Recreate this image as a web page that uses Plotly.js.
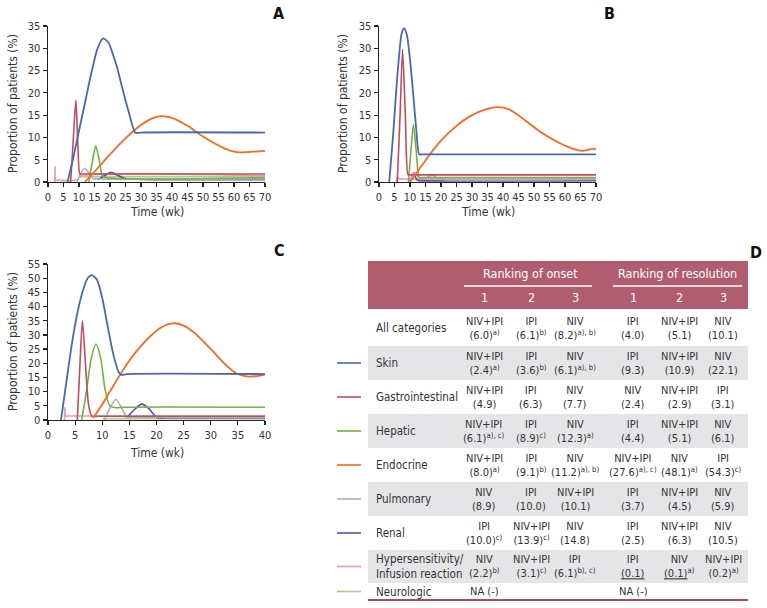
<!DOCTYPE html>
<html lang="en">
<head>
<meta charset="UTF-8">
<title>irAE onset and resolution</title>
<script src="https://cdn.plot.ly/plotly-3.0.1.min.js"></script>
<style>
  body { margin: 0; background: #fff; }
  #chart { width: 767px; height: 608px; }
</style>
</head>
<body>
<div id="chart"></div>
<script>
// ---- data (weeks, % of patients) ----
// panel A
const aSkinX = [6.3, 8, 10, 12, 14, 16, 17.8, 19.5, 21, 22.2, 24, 26, 28.1, 29, 30, 70];
const aSkinY = [0, 5, 11.5, 18, 24.5, 30, 32.2, 31.3, 28.5, 25.9, 21, 15.8, 11.1, 11, 11.1, 11.1];
const aGiX = [7.3, 8.2, 9.0, 9.6, 10.3, 11, 70];
const aGiY = [0, 10, 18.4, 9, 1.8, 1.8, 1.8];
const aHepX = [13.2, 14.3, 15.4, 16.5, 17.5, 18.5, 70];
const aHepY = [0, 4.5, 8.1, 5, 1.5, 1.0, 1.0];
const aEndoX = [11.9, 15, 20, 25, 30, 34, 36.7, 40, 45, 50, 55, 59, 61.9, 66, 70];
const aEndoY = [0, 2.3, 6.2, 9.8, 12.8, 14.4, 14.8, 14.4, 12.6, 10.2, 8.2, 7.0, 6.65, 6.8, 7.0];
const aPulmX = [9.3, 10.5, 11.8, 13, 14.5, 16, 70];
const aPulmY = [0, 1.8, 3.1, 2.2, 0.8, 0.7, 0.7];
const aRenX = [16, 18, 20.3, 22.5, 25, 30, 70];
const aRenY = [0.5, 1.3, 2.2, 1.5, 0.8, 0.6, 0.5];
const aHypX = [2.2, 2.3, 2.45, 3, 9, 11, 70];
const aHypY = [0, 3.4, 0.4, 0.4, 0.4, 1.4, 1.4];
const aNeuX = [10, 70];
const aNeuY = [1.2, 1.2];

// panel B
const bSkinX = [3.3, 4.5, 5.5, 6.5, 7.3, 8.1, 9, 10, 11, 12, 13, 14, 70];
const bSkinY = [0, 10, 20, 28.5, 33.3, 34.5, 33, 27.5, 20, 12, 6.2, 6.2, 6.2];
const bGiX = [5.9, 6.8, 7.6, 8.5, 9.4, 10, 70];
const bGiY = [0, 15, 29.8, 15, 1.6, 1.6, 1.6];
const bHepX = [9.5, 10.3, 11.1, 12, 13, 14, 70];
const bHepY = [0, 7, 12.9, 7, 1, 1, 1];
const bEndoX = [10, 12.2, 16.5, 20, 25, 30, 35, 38, 42, 47, 52, 57, 62, 65.4, 68, 70];
const bEndoY = [0, 2.1, 6.3, 9.3, 12.6, 15, 16.4, 16.8, 16.3, 13.9, 11.3, 9.2, 7.6, 7.0, 7.3, 7.5];
const bPulmX = [10, 11.3, 12.5, 14, 15, 17, 19, 21, 70];
const bPulmY = [0, 2.2, 1.2, 0.6, 0.8, 1.5, 0.9, 0.6, 0.6];
const bRenX = [10, 11.1, 12.3, 13, 70];
const bRenY = [0, 2.0, 0.4, 0.3, 0.3];
const bHypX = [5.6, 5.9, 6.3, 70];
const bHypY = [0, 1.0, 0.8, 0.8];
const bNeuX = [12, 70];
const bNeuY = [0.7, 0.7];

// panel C
const cSkinX = [2.4, 3.5, 4.5, 5.5, 6.5, 7.3, 8.05, 9, 10, 11, 12, 13, 13.5, 14.5, 40];
const cSkinY = [0, 15, 28, 38.5, 46, 50, 51.1, 49.5, 43, 33, 23.5, 17, 15.9, 16.2, 16.2];
const cGiX = [5.4, 5.9, 6.35, 6.9, 7.5, 8.1, 9, 40];
const cGiY = [0, 20, 35, 20, 5, 1.3, 1.3, 1.3];
const cHepX = [6.2, 7, 8, 8.85, 9.7, 10.5, 11.4, 12.5, 14, 40];
const cHepY = [0, 9, 22, 26.8, 22, 11, 5, 4.3, 4.5, 4.5];
const cEndoX = [8.3, 10, 11.4, 13.3, 15, 17, 19, 21, 23, 25, 27, 29, 31, 33, 35, 37, 38.5, 40];
const cEndoY = [0.7, 5.5, 10, 16, 21, 25.8, 29.8, 32.8, 34.1, 33.3, 30.7, 27, 23, 19, 16.2, 15.3, 15.5, 16];
const cPulmX = [10.4, 11.5, 12.5, 13.5, 14.6, 16, 40];
const cPulmY = [0, 4.5, 7.3, 4.5, 0.9, 1.0, 1.0];
const cRenX = [14.6, 16, 17.3, 18.7, 20, 22, 40];
const cRenY = [0.9, 3.8, 5.6, 3.8, 0.9, 0.8, 0.8];
const cHypX = [3.05, 3.1, 3.25, 3.5, 40];
const cHypY = [0, 4.5, 1.4, 1.4, 1.4];
const cNeuX = [10, 40];
const cNeuY = [0.5, 0.5];

// ---- table D ----
const categories = ['All categories', 'Skin', 'Gastrointestinal', 'Hepatic', 'Endocrine', 'Pulmonary', 'Renal',
  'Hypersensitivity/<br>Infusion reaction', 'Neurologic'];
const onset1 = ['NIV+IPI<br>(6.0)<sup>a)</sup>', 'NIV+IPI<br>(2.4)<sup>a)</sup>', 'NIV+IPI<br>(4.9)', 'NIV+IPI<br>(6.1)<sup>a), c)</sup>',
  'NIV+IPI<br>(8.0)<sup>a)</sup>', 'NIV<br>(8.9)', 'IPI<br>(10.0)<sup>c)</sup>', 'NIV<br>(2.2)<sup>b)</sup>', 'NA (-)'];
const onset2 = ['IPI<br>(6.1)<sup>b)</sup>', 'IPI<br>(3.6)<sup>b)</sup>', 'IPI<br>(6.3)', 'IPI<br>(8.9)<sup>c)</sup>',
  'IPI<br>(9.1)<sup>b)</sup>', 'IPI<br>(10.0)', 'NIV+IPI<br>(13.9)<sup>c)</sup>', 'NIV+IPI<br>(3.1)<sup>c)</sup>', ''];
const onset3 = ['NIV<br>(8.2)<sup>a), b)</sup>', 'NIV<br>(6.1)<sup>a), b)</sup>', 'NIV<br>(7.7)', 'NIV<br>(12.3)<sup>a)</sup>',
  'NIV<br>(11.2)<sup>a), b)</sup>', 'NIV+IPI<br>(10.1)', 'NIV<br>(14.8)', 'IPI<br>(6.1)<sup>b), c)</sup>', ''];
const resol1 = ['IPI<br>(4.0)', 'IPI<br>(9.3)', 'NIV<br>(2.4)', 'IPI<br>(4.4)', 'NIV+IPI<br>(27.6)<sup>a), c)</sup>',
  'IPI<br>(3.7)', 'IPI<br>(2.5)', 'IPI<br><u>(0.1)</u>', 'NA (-)'];
const resol2 = ['NIV+IPI<br>(5.1)', 'NIV+IPI<br>(10.9)', 'NIV+IPI<br>(2.9)', 'NIV+IPI<br>(5.1)', 'NIV<br>(48.1)<sup>a)</sup>',
  'NIV+IPI<br>(4.5)', 'NIV+IPI<br>(6.3)', 'NIV<br><u>(0.1)</u><sup>a)</sup>', ''];
const resol3 = ['NIV<br>(10.1)', 'NIV<br>(22.1)', 'IPI<br>(3.1)', 'NIV<br>(6.1)', 'IPI<br>(54.3)<sup>c)</sup>',
  'NIV<br>(5.9)', 'NIV<br>(10.5)', 'NIV+IPI<br>(0.2)<sup>a)</sup>', ''];

const colors = {
  skin: '#4a69ad', gi: '#c04d5d', hep: '#77b043', endo: '#ff671b',
  pulm: '#a9b1c1', ren: '#6549b0', hyp: '#eb9ba8', neu: '#a8d08c'
};

const FONT = 'DejaVu Sans Condensed, Roboto, sans-serif';
const W = 767, H = 608;
const px = x => x / W;
const py = y => 1 - y / H;

function line(x, y, color, xa, ya, width) {
  return {
    x: x, y: y, xaxis: xa, yaxis: ya, type: 'scatter', mode: 'lines',
    line: { color: color, width: width || 1.6, shape: 'spline', smoothing: 0.7 },
    hoverinfo: 'skip', showlegend: false
  };
}

const traces = [];
function panel(xa, ya, s) {
  // thin lines first, big curves on top
  traces.push(line(s.neu[0], s.neu[1], colors.neu, xa, ya));
  traces.push(line(s.hyp[0], s.hyp[1], colors.hyp, xa, ya));
  traces.push(line(s.ren[0], s.ren[1], colors.ren, xa, ya));
  traces.push(line(s.pulm[0], s.pulm[1], colors.pulm, xa, ya));
  traces.push(line(s.hep[0], s.hep[1], colors.hep, xa, ya));
  traces.push(line(s.gi[0], s.gi[1], colors.gi, xa, ya));
  traces.push(line(s.endo[0], s.endo[1], colors.endo, xa, ya, 1.8));
  traces.push(line(s.skin[0], s.skin[1], colors.skin, xa, ya, 1.8));
}
panel('x', 'y', { skin: [aSkinX, aSkinY], gi: [aGiX, aGiY], hep: [aHepX, aHepY], endo: [aEndoX, aEndoY],
  pulm: [aPulmX, aPulmY], ren: [aRenX, aRenY], hyp: [aHypX, aHypY], neu: [aNeuX, aNeuY] });
panel('x2', 'y2', { skin: [bSkinX, bSkinY], gi: [bGiX, bGiY], hep: [bHepX, bHepY], endo: [bEndoX, bEndoY],
  pulm: [bPulmX, bPulmY], ren: [bRenX, bRenY], hyp: [bHypX, bHypY], neu: [bNeuX, bNeuY] });
panel('x3', 'y3', { skin: [cSkinX, cSkinY], gi: [cGiX, cGiY], hep: [cHepX, cHepY], endo: [cEndoX, cEndoY],
  pulm: [cPulmX, cPulmY], ren: [cRenX, cRenY], hyp: [cHypX, cHypY], neu: [cNeuX, cNeuY] });

function axis(domain, range, anchor) {
  return {
    domain: domain, range: range, anchor: anchor, dtick: 5, tick0: 0, tickangle: 0,
    showline: true, linecolor: '#222', linewidth: 1.4, mirror: false,
    ticks: 'outside', ticklen: 4, tickwidth: 1.2, tickcolor: '#222',
    showgrid: false, zeroline: false, fixedrange: true,
    tickfont: { family: FONT, size: 11, color: '#333' }
  };
}

const annotations = [];
const shapes = [];
function note(text, x, y, opts) {
  annotations.push(Object.assign({
    text: text, x: px(x), y: py(y), xref: 'paper', yref: 'paper', showarrow: false,
    xanchor: 'center', yanchor: 'middle', font: { family: FONT, size: 11.5, color: '#333' }
  }, opts || {}));
}

// axis titles and panel letters
const ytitle = 'Proportion of patients (%)';
const titleFont = { family: FONT, size: 12, color: '#333' };
note(ytitle, 13, 104, { textangle: -90, font: titleFont });
note(ytitle, 343, 104, { textangle: -90, font: titleFont });
note(ytitle, 13, 342, { textangle: -90, font: titleFont });
note('Time (wk)', 157, 212, { font: titleFont });
note('Time (wk)', 488, 212, { font: titleFont });
note('Time (wk)', 157, 453, { font: titleFont });
const letterFont = { family: FONT, size: 16, color: '#111' };
note('<b>A</b>', 279, 14, { font: letterFont });
note('<b>B</b>', 609, 14, { font: letterFont });
note('<b>C</b>', 279, 251, { font: letterFont });
note('<b>D</b>', 756, 252, { font: letterFont });

// table D geometry
const tLeft = 368, tRight = 748;
const headerTop = 261, headerBottom = 309;
const rowTop = [310, 346, 380, 414, 448, 482, 516, 550, 583];
const rowBottom = [346, 380, 414, 448, 482, 516, 550, 583, 600];
const colCenters = [484, 531, 575, 633, 679, 723];
const legendColors = [null, colors.skin, colors.gi, colors.hep, colors.endo, colors.pulm, colors.ren, colors.hyp, colors.neu];
const headerColor = '#b05d70';

shapes.push({ type: 'rect', xref: 'paper', yref: 'paper', x0: px(tLeft), x1: px(tRight),
  y0: py(headerBottom), y1: py(headerTop), fillcolor: headerColor, line: { width: 0 }, layer: 'below' });
shapes.push({ type: 'line', xref: 'paper', yref: 'paper', x0: px(464), x1: px(592), y0: py(286), y1: py(286),
  line: { color: '#fff', width: 1.5 } });
shapes.push({ type: 'line', xref: 'paper', yref: 'paper', x0: px(613), x1: px(742), y0: py(286), y1: py(286),
  line: { color: '#fff', width: 1.5 } });
const headFont = { family: FONT, size: 12.5, color: '#fff' };
note('Ranking of onset', 530, 274, { font: headFont });
note('Ranking of resolution', 677, 274, { font: headFont });
['1', '2', '3', '1', '2', '3'].forEach((t, i) => note(t, colCenters[i], 298, { font: headFont }));

const columns = [onset1, onset2, onset3, resol1, resol2, resol3];
categories.forEach((cat, r) => {
  const mid = (rowTop[r] + rowBottom[r]) / 2;
  if (r % 2 === 1) {
    shapes.push({ type: 'rect', xref: 'paper', yref: 'paper', x0: px(tLeft), x1: px(tRight),
      y0: py(rowBottom[r]), y1: py(rowTop[r]), fillcolor: '#e5e5e7', line: { width: 0 }, layer: 'below' });
  }
  if (legendColors[r]) {
    shapes.push({ type: 'line', xref: 'paper', yref: 'paper', x0: px(337), x1: px(361), y0: py(mid), y1: py(mid),
      line: { color: legendColors[r], width: 1.6 } });
  }
  note(cat, 374, mid, { xanchor: 'left', align: 'left', font: { family: FONT, size: 11.5, color: '#333' } });
  columns.forEach((col, c) => {
    if (col[r]) note(col[r], colCenters[c], mid, { align: 'center', font: { family: FONT, size: 11, color: '#333' } });
  });
});
shapes.push({ type: 'line', xref: 'paper', yref: 'paper', x0: px(tLeft), x1: px(tRight), y0: py(600), y1: py(600),
  line: { color: '#b5485e', width: 2 } });

const layout = {
  width: W, height: H,
  margin: { l: 0, r: 0, t: 0, b: 0 },
  paper_bgcolor: '#fff', plot_bgcolor: 'rgba(0,0,0,0)',
  showlegend: false,
  font: { family: FONT, color: '#333' },
  xaxis: axis([px(48), px(265)], [0, 70], 'y'),
  yaxis: axis([py(182), py(26)], [0, 35], 'x'),
  xaxis2: axis([px(379), px(596)], [0, 70], 'y2'),
  yaxis2: axis([py(182), py(26)], [0, 35], 'x2'),
  xaxis3: axis([px(48), px(265)], [0, 40], 'y3'),
  yaxis3: axis([py(420), py(264)], [0, 55], 'x3'),
  annotations: annotations,
  shapes: shapes
};

Plotly.newPlot('chart', traces, layout, { displayModeBar: false, staticPlot: true });
</script>
</body>
</html>
